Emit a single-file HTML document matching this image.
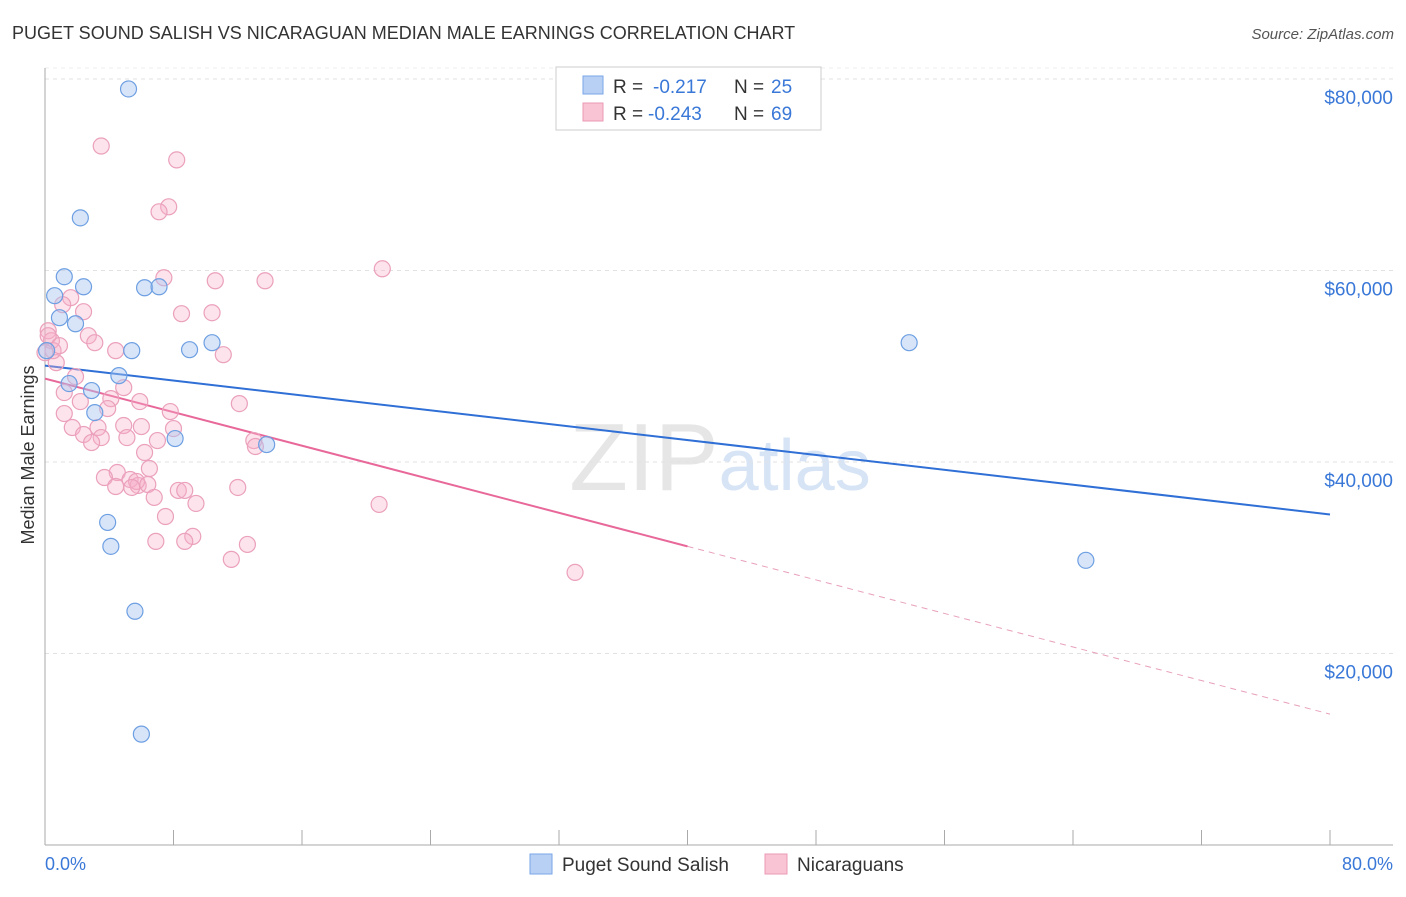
<!DOCTYPE html>
<html><head><meta charset="utf-8"><style>
body{margin:0;background:#fff;font-family:"Liberation Sans",sans-serif;}
svg text{font-family:"Liberation Sans",sans-serif;}
</style></head><body>
<svg id="chart" width="1406" height="892" viewBox="0 0 1406 892" xmlns="http://www.w3.org/2000/svg">
<text x="12" y="39" font-size="18" fill="#333">PUGET SOUND SALISH VS NICARAGUAN MEDIAN MALE EARNINGS CORRELATION CHART</text>
<text x="1394" y="39" font-size="15" fill="#555" text-anchor="end" font-style="italic">Source: ZipAtlas.com</text>
<text x="720" y="490" font-size="96" text-anchor="middle" fill="#e6e6e6" font-family="Liberation Serif"><tspan>ZIP</tspan><tspan fill="#d6e4f6" font-family="Liberation Sans" font-size="72">atlas</tspan></text>
<g id="grid"></g><g id="axes"></g><g id="trends"></g><g id="pts"></g>
<text transform="translate(34,455) rotate(-90)" font-size="18" fill="#333" text-anchor="middle">Median Male Earnings</text>
<text x="45" y="870" font-size="18" fill="#3a78d8">0.0%</text>
<text x="1393" y="870" font-size="18" fill="#3a78d8" text-anchor="end">80.0%</text>
<g>
<rect x="556" y="67" width="265" height="63" fill="#fff" stroke="#ccc"/>
<rect x="583" y="76" width="20" height="18" fill="#b8d0f4" stroke="#7aa6e6"/>
<rect x="583" y="103" width="20" height="18" fill="#f9c4d4" stroke="#eb9ab5"/>
<text x="613" y="93" font-size="19" fill="#333">R =</text>
<text x="653" y="93" font-size="19" fill="#3a78d8">-0.217</text>
<text x="734" y="93" font-size="19" fill="#333">N =</text>
<text x="771" y="93" font-size="19" fill="#3a78d8">25</text>
<text x="613" y="120" font-size="19" fill="#333">R =</text>
<text x="648" y="120" font-size="19" fill="#3a78d8">-0.243</text>
<text x="734" y="120" font-size="19" fill="#333">N =</text>
<text x="771" y="120" font-size="19" fill="#3a78d8">69</text>
</g>
<g>
<rect x="530" y="854" width="22" height="20" fill="#b8d0f4" stroke="#7aa6e6"/>
<text x="562" y="871" font-size="19" fill="#333">Puget Sound Salish</text>
<rect x="765" y="854" width="22" height="20" fill="#f9c4d4" stroke="#eb9ab5"/>
<text x="797" y="871" font-size="19" fill="#333">Nicaraguans</text>
</g>
</svg>
<script>
const yTicks=[20000,40000,60000,80000];
const yTickLabels=["$20,000","$40,000","$60,000","$80,000"];
const blueX=[5.2,2.2,1.2,2.4,6.2,7.1,0.6,0.9,1.9,5.4,9.0,10.4,0.1,4.6,1.5,2.9,3.1,8.1,13.8,3.9,4.1,5.6,6.0,53.8,64.8];
const blueY=[78960,65500,59350,58300,58200,58300,57370,55070,54440,51630,51730,52460,51630,49020,48190,47460,45160,42450,41820,33690,31190,24410,11580,52460,29730];
const pinkX=[3.5,8.2,7.7,7.1,21.0,7.4,10.6,13.7,1.6,2.4,1.1,8.5,10.4,0.2,0.4,2.7,3.1,4.4,11.1,0.7,1.9,4.9,1.2,4.1,2.2,5.9,3.9,12.1,1.2,7.8,3.3,1.7,4.9,6.0,8.0,2.4,3.5,5.1,2.9,7.0,13.0,13.1,6.2,6.5,4.5,3.7,5.3,5.8,5.7,4.4,5.4,6.4,8.3,8.7,12.0,6.8,9.4,20.8,7.5,9.2,6.9,8.7,12.6,11.6,33.0,0.2,0.5,0.9,0.0];
const pinkY=[73000,71550,66650,66130,60180,59240,58930,58930,57160,55700,56430,55490,55590,53710,52670,53190,52460,51630,51210,50380,48920,47770,47250,46620,46310,46310,45580,46100,45060,45270,43600,43600,43810,43700,43490,42870,42550,42550,42030,42240,42240,41620,40990,39320,38900,38380,38170,37550,37970,37440,37340,37650,37030,37030,37340,36300,35670,35570,34310,32230,31710,31710,31390,29830,28470,53190,51630,52150,51420];
const blueTrend=[50060,34520];
const pinkTrend=[48710,13670];
const pinkSolidEnd=40;
const X=p=>45+p*(1285/80);
const Y=v=>845-v*(766/80000);
const NS="http://www.w3.org/2000/svg";
function mk(tag,attrs,parent){const e=document.createElementNS(NS,tag);for(const k in attrs)e.setAttribute(k,attrs[k]);document.getElementById(parent).appendChild(e);return e;}
yTicks.forEach((t,i)=>{
 const l=mk('line',{x1:45,x2:1393,y1:Y(t),y2:Y(t),stroke:'#e2e2e2','stroke-dasharray':'4,4'},'grid');
 
 
 const tx=mk('text',{x:1393,y:Y(t)+25,'font-size':19,fill:'#3a78d8','text-anchor':'end'},'grid');
 tx.textContent=yTickLabels[i];
 
 
});
mk('line',{x1:45,x2:1393,y1:Y(80000)-11,y2:Y(80000)-11,stroke:'#eee','stroke-dasharray':'4,4'},'grid');
const ya=mk('line',{x1:45,x2:45,y1:68,y2:845,stroke:'#aaa'},'axes');


const xa=mk('line',{x1:45,x2:1393,y1:845,y2:845,stroke:'#aaa'},'axes');


for(let i=0;i<=10;i++){const t=mk('line',{x1:X(i*8),x2:X(i*8),y1:830,y2:845,stroke:'#aaa'},'axes');
 
 }
function dots(xs,ys,fill,stroke,name){xs.forEach((x,i)=>{const c=mk('circle',{cx:X(x),cy:Y(ys[i]),r:8,fill:fill,stroke:stroke,'stroke-width':1.2},'pts');
 
 });}
dots(pinkX,pinkY,'rgba(246,176,200,0.35)','#eba0bb','nicaraguans-point');
dots(blueX,blueY,'rgba(168,198,242,0.45)','#6d9fe2','puget-sound-salish-point');
const bt=mk('line',{x1:X(0),y1:Y(blueTrend[0]),x2:X(80),y2:Y(blueTrend[1]),stroke:'#2f6fd6','stroke-width':2},'trends');


const py=p=>pinkTrend[0]+(pinkTrend[1]-pinkTrend[0])*p/80;
const ps=mk('line',{x1:X(0),y1:Y(py(0)),x2:X(pinkSolidEnd),y2:Y(py(pinkSolidEnd)),stroke:'#e8689a','stroke-width':2},'trends');


const pd=mk('line',{x1:X(pinkSolidEnd),y1:Y(py(pinkSolidEnd)),x2:X(80),y2:Y(py(80)),stroke:'#e8a0bc','stroke-width':1,'stroke-dasharray':'6,5'},'trends');


</script>
</body></html>
